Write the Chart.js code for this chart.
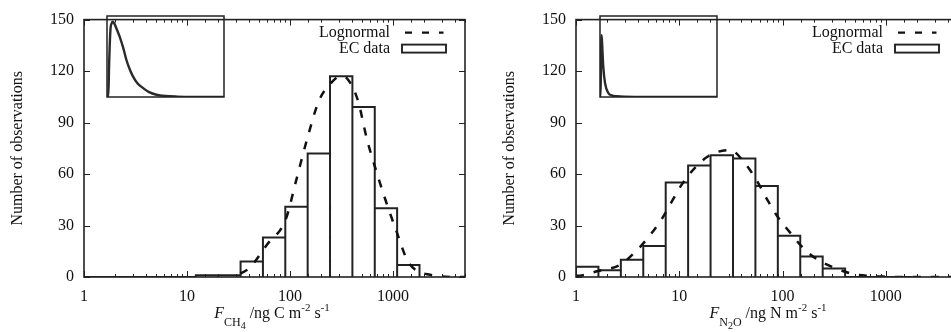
<!DOCTYPE html>
<html>
<head>
<meta charset="utf-8">
<script src="https://cdn.jsdelivr.net/npm/chart.js@4.4.1/dist/chart.umd.min.js"></script>
<style>
    html, body { margin: 0; padding: 0; background: #fff; overflow: hidden; width: 951px; height: 332px; }
    #wrap { position: relative; width: 951px; height: 332px; overflow: hidden; }
    canvas { position: absolute; }
    .xtitle { position: absolute; top: 305px; transform: translateX(-50%); font-family: 'Liberation Serif', serif;
              font-size: 16px; line-height: 16px; color: #111; white-space: nowrap; }
    .xtitle .sb { position: relative; top: 8px; font-size: 12px; }
    .xtitle .sbb { position: relative; top: 3px; font-size: 10px; }
    .xtitle .sp { position: relative; top: -7px; font-size: 11px; }
</style>
</head>
<body>
<div id="wrap">
    <canvas id="chart-ch4" width="480" height="332" style="left:0;top:0"></canvas>
    <canvas id="chart-n2o" width="490" height="332" style="left:480px;top:0"></canvas>
    <canvas id="inset-ch4" width="119" height="83" style="left:106px;top:15px"></canvas>
    <canvas id="inset-n2o" width="119" height="83" style="left:599px;top:15px"></canvas>
    <div class="xtitle" style="left:272px"><i>F</i><span class="sb">CH<span class="sbb">4</span></span> /ng C m<span class="sp">-2</span> s<span class="sp">-1</span></div>
    <div class="xtitle" style="left:768px"><i>F</i><span class="sb">N<span class="sbb">2</span>O</span> /ng N m<span class="sp">-2</span> s<span class="sp">-1</span></div>
</div>
<script>
// Histogram bins (edges shared by both panels) and counts per bin
const binEdges = [1, 1.649, 2.718, 4.482, 7.389, 12.18, 20.09, 33.12, 54.6, 90.02, 148.4, 244.7, 403.4, 665.1, 1096.6, 1808.0];
const ch4Counts = [0, 0, 0, 0, 0, 1, 1, 9, 23, 41, 72, 117, 99, 40, 7];
const n2oCounts = [6, 4, 10, 18, 55, 65, 71, 69, 53, 24, 12, 5, 0, 0, 0];

// Lognormal fit curves
const ch4FitX = [33, 40, 60, 91, 114, 146, 191, 250, 306, 366, 457, 560, 715, 855, 1094, 1400, 2287, 4470, 5000];
const ch4FitY = [2, 5, 19, 33.6, 55.6, 80, 102.7, 113, 117, 115, 102.7, 80, 58.5, 44, 25.7, 9, 1.3, 0, 0];
const n2oFitX = [1, 1.09, 1.63, 2.65, 3.72, 5.0, 6.8, 10.6, 14.4, 19.8, 31, 43, 56.5, 72.8, 90, 118, 158, 220, 329, 502, 820, 1500, 5000];
const n2oFitY = [0.7, 0.8, 3.5, 7, 14.4, 23, 34, 54, 64, 71, 74, 66.5, 56, 44, 35, 26, 17, 10, 5, 1.5, 0.5, 0, 0];

// Inset curves (linear axes, arbitrary units)
const ch4InsetX = [0, 0.011, 0.018, 0.029, 0.04, 0.051, 0.065, 0.085, 0.109, 0.14, 0.166, 0.195, 0.223, 0.26, 0.309, 0.36, 0.423, 0.5, 0.6, 0.8, 1];
const ch4InsetY = [0, 0, 0.4, 0.82, 0.91, 0.93, 0.9, 0.83, 0.743, 0.6, 0.457, 0.34, 0.252, 0.17, 0.11, 0.06, 0.028, 0.012, 0.005, 0.001, 0];
const n2oInsetX = [0, 0.005, 0.009, 0.014, 0.02, 0.028, 0.043, 0.071, 0.1, 0.143, 0.3, 1];
const n2oInsetY = [0, 0, 0.5, 0.763, 0.6, 0.375, 0.171, 0.049, 0.02, 0.01, 0.002, 0];

const yTicks = [0, 30, 60, 90, 120, 150];
const FONT = "'Liberation Serif', serif";
const INK = '#111';

// Histogram outline as a polyline through the scales
function contornoHistograma(edges, counts) {
    const pts = [];
    counts.forEach((c, i) => {
        pts.push({ x: edges[i], y: 0 }, { x: edges[i], y: c }, { x: edges[i + 1], y: c }, { x: edges[i + 1], y: 0 });
    });
    return pts;
}

const ehDecada = v => { const l = Math.log10(v); return Math.abs(l - Math.round(l)) < 1e-6; };

// gnuplot-style frame with inward ticks on all four sides
const moldura = {
    id: 'moldura',
    afterDatasetsDraw(chart) {
        const { ctx, chartArea: a, scales: { x, y } } = chart;
        ctx.save();
        ctx.strokeStyle = '#222';
        ctx.lineWidth = 1;
        ctx.beginPath();
        x.ticks.forEach(t => {
            const px = Math.round(x.getPixelForValue(t.value)) + 0.5;
            const len = ehDecada(t.value) ? 6 : 3;
            ctx.moveTo(px, a.bottom); ctx.lineTo(px, a.bottom - len);
            ctx.moveTo(px, a.top); ctx.lineTo(px, a.top + len);
        });
        y.ticks.forEach(t => {
            const py = Math.round(y.getPixelForValue(t.value)) + 0.5;
            ctx.moveTo(a.left, py); ctx.lineTo(a.left + 6, py);
            ctx.moveTo(a.right, py); ctx.lineTo(a.right - 6, py);
        });
        ctx.stroke();
        ctx.lineWidth = 1.6;
        ctx.strokeRect(a.left, a.top, a.right - a.left, a.bottom - a.top);
        ctx.restore();
    }
};

// Legend inside the plot, text on the left, sample on the right
const legenda = {
    id: 'legenda',
    afterDraw(chart) {
        const { ctx, chartArea: a } = chart;
        const ds = chart.data.datasets;
        ctx.save();
        ctx.font = `16px ${FONT}`;
        ctx.fillStyle = INK;
        ctx.textAlign = 'right';
        ctx.textBaseline = 'alphabetic';
        ctx.fillText(ds[0].label, a.right - 75, a.top + 17);
        ctx.fillText(ds[1].label, a.right - 75, a.top + 33);
        ctx.strokeStyle = '#111';
        ctx.lineWidth = 2.4;
        ctx.setLineDash([7, 10]);
        ctx.beginPath();
        ctx.moveTo(a.right - 60, a.top + 13);
        ctx.lineTo(a.right - 21.5, a.top + 13);
        ctx.stroke();
        ctx.setLineDash([]);
        ctx.lineWidth = 1.9;
        ctx.strokeStyle = '#222';
        ctx.strokeRect(a.right - 63, a.top + 25, 44, 8);
        ctx.restore();
    }
};

function montarPainel(id, counts, fitX, fitY, yWidth, padRight, titlePad) {
    return new Chart(document.getElementById('chart-' + id), {
        type: 'line',
        data: {
            datasets: [
                {
                    label: 'Lognormal',
                    data: fitX.map((x, i) => ({ x, y: fitY[i] })),
                    borderColor: '#111',
                    borderWidth: 2.5,
                    borderDash: [8, 10],
                    pointRadius: 0,
                    cubicInterpolationMode: 'monotone',
                    fill: false
                },
                {
                    label: 'EC data',
                    data: contornoHistograma(binEdges, counts),
                    borderColor: '#222',
                    borderWidth: 2,
                    pointRadius: 0,
                    tension: 0,
                    fill: false
                }
            ]
        },
        options: {
            responsive: false,
            animation: false,
            layout: { padding: { left: 0, top: 16, right: padRight, bottom: 0 } },
            plugins: { legend: { display: false }, tooltip: { enabled: false } },
            scales: {
                x: {
                    type: 'logarithmic',
                    min: 1,
                    max: 5000,
                    grid: { display: false },
                    border: { display: false },
                    ticks: {
                        autoSkip: false,
                        maxRotation: 0,
                        padding: 2,
                        color: INK,
                        font: { family: FONT, size: 16 },
                        callback: v => ehDecada(v) ? String(Math.round(v)) : ''
                    },
                    afterFit: s => { s.height = 55; }
                },
                y: {
                    min: 0,
                    max: 150,
                    grid: { display: false, drawTicks: false },
                    border: { display: false },
                    afterBuildTicks: s => { s.ticks = yTicks.map(v => ({ value: v })); },
                    ticks: { padding: 10, color: INK, font: { family: FONT, size: 16 } },
                    title: {
                        display: true,
                        text: 'Number of observations',
                        color: INK,
                        font: { family: FONT, size: 16 },
                        padding: { top: titlePad, bottom: 0 }
                    },
                    afterFit: s => { s.width = yWidth; }
                }
            }
        },
        plugins: [moldura, legenda]
    });
}

const caixaInset = {
    id: 'caixaInset',
    afterDraw(chart) {
        const { ctx, chartArea: a } = chart;
        ctx.save();
        ctx.strokeStyle = '#222';
        ctx.lineWidth = 1.5;
        ctx.strokeRect(a.left, a.top, a.right - a.left, a.bottom - a.top);
        ctx.restore();
    }
};

function montarInset(id, xs, ys) {
    return new Chart(document.getElementById('inset-' + id), {
        type: 'line',
        data: {
            datasets: [{
                data: xs.map((x, i) => ({ x, y: ys[i] })),
                borderColor: '#2a2a2a',
                borderWidth: 2.4,
                pointRadius: 0,
                cubicInterpolationMode: 'monotone',
                fill: false
            }]
        },
        options: {
            responsive: false,
            animation: false,
            layout: { padding: 1 },
            plugins: { legend: { display: false }, tooltip: { enabled: false } },
            scales: {
                x: { type: 'linear', min: 0, max: 1, display: false },
                y: { min: 0, max: 1, display: false }
            }
        },
        plugins: [caixaInset]
    });
}

montarPainel('ch4', ch4Counts, ch4FitX, ch4FitY, 84, 15, 8.4);
montarPainel('n2o', n2oCounts, n2oFitX, n2oFitY, 96, 12, 20.4);
montarInset('ch4', ch4InsetX, ch4InsetY);
montarInset('n2o', n2oInsetX, n2oInsetY);
</script>
</body>
</html>
